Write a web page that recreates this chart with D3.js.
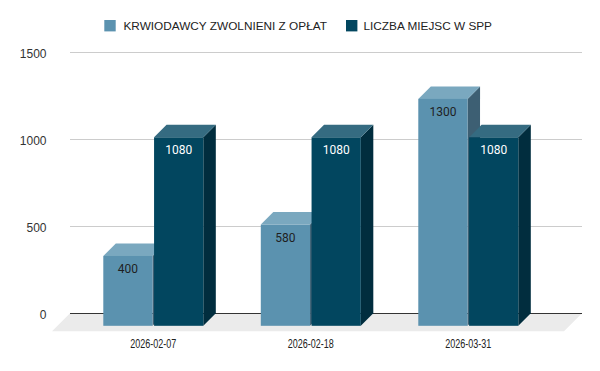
<!DOCTYPE html>
<html>
<head>
<meta charset="utf-8">
<script src="https://cdn.jsdelivr.net/npm/d3@7"></script>
<style>
  html, body { margin: 0; padding: 0; background: #fff; }
  svg { display: block; }
</style>
</head>
<body>
<div id="chart"></div>
<script>
// chart values
const categories = ["2026-02-07", "2026-02-18", "2026-03-31"];
const seriesNames = ["KRWIODAWCY ZWOLNIENI Z OPŁAT", "LICZBA MIEJSC W SPP"];
const donorsExempt = [400, 580, 1300];
const sppPlaces = [1080, 1080, 1080];
const yTicks = [0, 500, 1000, 1500];

const svgWidth = 600;
const svgHeight = 371;
const depth = 12.5;        // 3d offset of bars
const floorDepth = 18;
const gridLeft = 70;
const gridRight = 582;

// colours per series: front, top, side, label
const styles = [
    { front: "#5b92af", top: "#7aa8bf", side: "#3d5f73", text: "#1f1f1f" },
    { front: "#02465f", top: "#356b81", side: "#012d3e", text: "#ffffff" }
];

const rows = categories.map((c, i) => ({
    category: c,
    values: [donorsExempt[i], sppPlaces[i]]
}));

const svg = d3.select("#chart")
    .append("svg")
    .attr("width", svgWidth)
    .attr("height", svgHeight);

// y scale lives on the back plane of the bars
const yScale = d3.scaleLinear()
    .domain([0, 1500])
    .range([313.3, 51.5]);

// x scales live on the front plane
const x0 = d3.scaleBand()
    .domain(categories)
    .range([103.3, 518.3])
    .paddingInner(0.365)
    .paddingOuter(0);

const x1 = d3.scaleBand()
    .domain(d3.range(seriesNames.length))
    .range([0, x0.bandwidth()])
    .paddingInner(0.03);

// grid lines
svg.append("g")
    .selectAll("line")
    .data(yTicks.filter(t => t > 0))
    .enter()
    .append("line")
    .attr("x1", gridLeft)
    .attr("x2", gridRight)
    .attr("y1", d => Math.round(yScale(d)) + 0.5)
    .attr("y2", d => Math.round(yScale(d)) + 0.5)
    .attr("stroke", "#cccccc")
    .attr("stroke-width", 1);

// y tick labels
svg.append("g")
    .selectAll("text")
    .data(yTicks)
    .enter()
    .append("text")
    .attr("x", 46.5)
    .attr("y", d => yScale(d) + 6)
    .attr("text-anchor", "end")
    .attr("font-family", "'Liberation Sans', Arial, sans-serif")
    .attr("font-size", 12)
    .attr("fill", "#333")
    .text(d => d);

// floor
const y0 = yScale(0);
svg.append("path")
    .attr("d", `M${gridLeft},${y0} L${gridRight},${y0} L${gridRight - floorDepth},${y0 + floorDepth} L${gridLeft - floorDepth},${y0 + floorDepth} Z`)
    .attr("fill", "#ebebeb");

// baseline
svg.append("line")
    .attr("x1", gridLeft)
    .attr("x2", gridRight)
    .attr("y1", Math.round(y0) + 0.5)
    .attr("y2", Math.round(y0) + 0.5)
    .attr("stroke", "#333")
    .attr("stroke-width", 1);

// bars
const bars = svg.append("g");
rows.forEach(row => {
    row.values.forEach((v, s) => {
        const st = styles[s];
        const x = x0(row.category) + x1(s);
        const w = x1.bandwidth();
        const yTop = yScale(v) + depth;   // front top
        const yBot = y0 + depth;          // front bottom
        const g = bars.append("g");

        g.append("path")
            .attr("d", `M${x + w},${yTop} L${x + w + depth},${yTop - depth} L${x + w + depth},${yBot - depth} L${x + w},${yBot} Z`)
            .attr("fill", st.side);

        g.append("path")
            .attr("d", `M${x},${yTop} L${x + depth},${yTop - depth} L${x + w + depth},${yTop - depth} L${x + w},${yTop} Z`)
            .attr("fill", st.top);

        g.append("rect")
            .attr("x", x)
            .attr("y", yTop)
            .attr("width", w)
            .attr("height", yBot - yTop)
            .attr("fill", st.front);

        g.append("text")
            .attr("x", x + w / 2)
            .attr("y", yTop + 17)
            .attr("text-anchor", "middle")
            .attr("font-family", "Roboto, sans-serif")
            .attr("font-size", 12)
            .attr("fill", st.text)
            .text(v);
    });
});

// category labels
svg.append("g")
    .selectAll("text")
    .data(categories)
    .enter()
    .append("text")
    .attr("x", d => x0(d) + x0.bandwidth() / 2)
    .attr("y", 347.8)
    .attr("text-anchor", "middle")
    .attr("font-family", "'Liberation Sans Narrow', 'Arial Narrow', sans-serif")
    .attr("font-stretch", "condensed")
    .attr("font-size", 12.5)
    .attr("textLength", 46)
    .attr("lengthAdjust", "spacingAndGlyphs")
    .attr("fill", "#222")
    .text(d => d);

// legend
const legendSwatchX = [104.3, 346];
const legendTextX = [123.5, 363.5];
const legend = svg.append("g")
    .selectAll("g")
    .data(seriesNames)
    .enter()
    .append("g");

legend.append("rect")
    .attr("x", (d, i) => legendSwatchX[i])
    .attr("y", 20)
    .attr("width", 11.4)
    .attr("height", 11.4)
    .attr("fill", (d, i) => styles[i].front);

legend.append("text")
    .attr("x", (d, i) => legendTextX[i])
    .attr("y", 30)
    .attr("font-family", "'Liberation Sans', Arial, sans-serif")
    .attr("font-size", 11.8)
    .attr("fill", "#222")
    .text(d => d);
</script>
</body>
</html>
